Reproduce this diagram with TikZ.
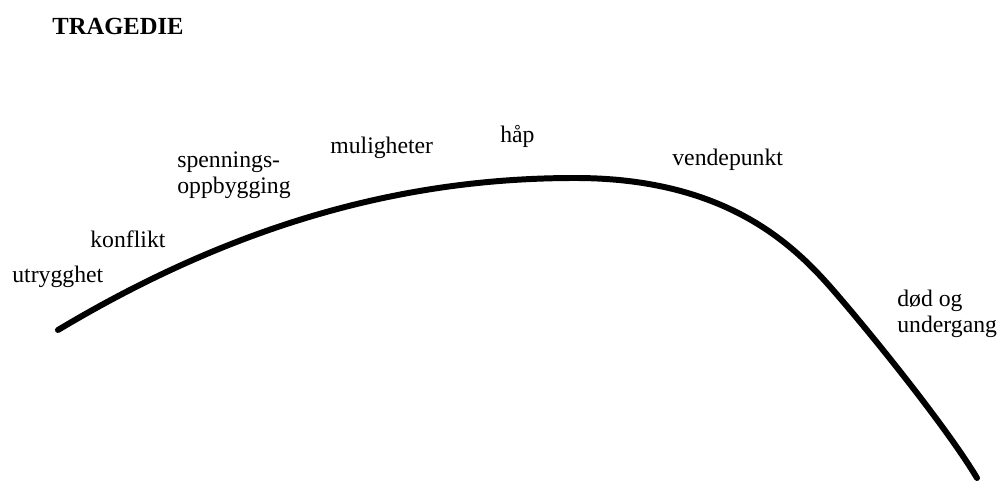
\documentclass[tikz,border=0pt]{standalone}
\usepackage{fontspec}
\setmainfont{Liberation Serif}
\usepackage{xcolor}
\definecolor{ink}{HTML}{000000}
\definecolor{paper}{HTML}{FFFFFF}
\tikzset{
  arc/.style={draw=ink, line width=3.4pt, line cap=round, line join=round},
  lab/.style={text=ink, font=\fontsize{13.5}{14.5}\selectfont, anchor=west, inner sep=0pt, align=left},
  head/.style={text=ink, font=\fontsize{14}{16}\selectfont\bfseries, anchor=west, inner sep=0pt},
}
\begin{document}
\begin{tikzpicture}[x=0.02cm, y=-0.02cm]
  \fill[paper] (0,0) rectangle (1004,482);
  \useasboundingbox (0,0) rectangle (1004,482);
  \node[head] (title) at (52,26) {TRAGEDIE};
  % the arc of the plot
  \coordinate (start) at (58,330);
  \coordinate (top) at (575,178);
  \coordinate (fall) at (833,290);
  \coordinate (end) at (977,478);
  \draw[arc] (start) .. controls (250,215) and (420,178) .. (top)
    .. controls (725,178) and (793,244) .. (fall)
    .. controls (873,336) and (947,428) .. (end);
  \node[lab] (utr) at (12,277) {utrygghet};
  \node[lab] (konf) at (90,239) {konflikt};
  \node[lab] (spenn) at (177,175) {spennings-\\oppbygging};
  \node[lab] (mul) at (330,148) {muligheter};
  \node[lab] (haap) at (500,136) {håp};
  \node[lab] (vende) at (672,160) {vendepunkt};
  \node[lab] (dod) at (897,314) {død og\\undergang};
\end{tikzpicture}
\end{document}
